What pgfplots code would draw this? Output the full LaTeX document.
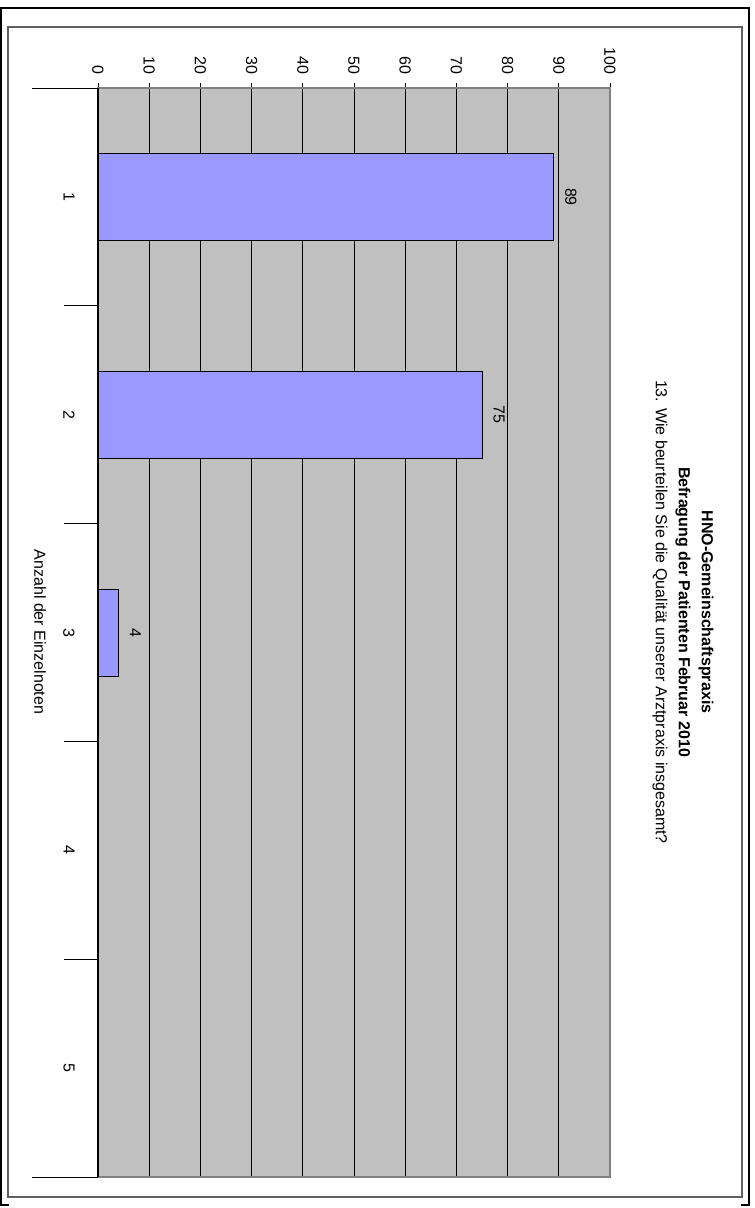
\documentclass[border=0pt]{standalone}
\usepackage{fontspec}
\setmainfont{Liberation Sans}
\usepackage{pgfplots}
\pgfplotsset{compat=1.18}
\definecolor{plotgray}{HTML}{C0C0C0}
\definecolor{barblue}{HTML}{9999FF}
\definecolor{framegray}{HTML}{606060}
\begin{document}
\fontsize{8pt}{9.6pt}\selectfont
\begin{tikzpicture}
\useasboundingbox (0,0) rectangle (377pt,-604pt);
% outer frame
\draw[black, line width=1.1pt] (0.5pt,-602.3pt) -- (0.5pt,-4pt) -- (374.3pt,-4pt) -- (374.3pt,-602.3pt);
\draw[black, line width=1.1pt] (0pt,-602.3pt) -- (4.5pt,-602.3pt);
\draw[black, line width=1.1pt] (370.5pt,-602.3pt) -- (374.85pt,-602.3pt);
% inner frame
\draw[framegray, line width=0.6pt] (4pt,-13.5pt) rectangle (371pt,-598.5pt);
\begin{axis}[
  at={(49pt,-44pt)}, anchor=north west,
  width=256pt, height=544.5pt, scale only axis,
  xbar, bar width=43.5pt,
  xmin=0, xmax=100, ymin=0.5, ymax=5.5, y dir=reverse,
  axis background/.style={fill=plotgray},
  axis line style={draw=gray, line width=0.6pt},
  xtick={0,10,...,100}, xtick pos=right, xticklabel pos=right,
  tick align=outside, major tick length=2.5pt,
  xtick style={black, line width=0.5pt},
  xmajorgrids, grid style={black, line width=0.5pt},
  xticklabel style={rotate=-90, anchor=east, inner sep=0pt},
  xticklabel shift=4pt,
  ytick={1,2,3,4,5}, ytick style={draw=none},
  yticklabel style={rotate=-90, anchor=north, inner sep=0pt},
  yticklabel shift=9pt,
  /pgf/number format/assume math mode=true,
  tick label style={font=\fontsize{8pt}{9.6pt}\selectfont},
  nodes near coords,
  every node near coord/.append style={rotate=-90, anchor=south, inner sep=5.5pt, black, font=\fontsize{8pt}{9.6pt}\selectfont},
  clip=false,
]
\addplot[fill=barblue, draw=black, line width=0.5pt] coordinates {(89,1) (75,2) (4,3)};
\draw[black, line width=0.6pt] (axis cs:0,0.5) -- (axis cs:0,5.5);
\draw[black, line width=0.5pt] (axis cs:0,0.5) -- ++(-33pt,0pt);
\draw[black, line width=0.5pt] (axis cs:0,5.5) -- ++(-33pt,0pt);
\draw[black, line width=0.5pt] (axis cs:0,1.5) -- ++(-17pt,0pt);
\draw[black, line width=0.5pt] (axis cs:0,2.5) -- ++(-17pt,0pt);
\draw[black, line width=0.5pt] (axis cs:0,3.5) -- ++(-17pt,0pt);
\draw[black, line width=0.5pt] (axis cs:0,4.5) -- ++(-17pt,0pt);
\end{axis}
\node[rotate=-90, align=center, font=\fontsize{8pt}{11.5pt}\selectfont] at (341.5pt,-306pt)
  {\textbf{HNO-Gemeinschaftspraxis}\\ \textbf{Befragung der Patienten Februar 2010}\\ 13. Wie beurteilen Sie die Qualität unserer Arztpraxis insgesamt?};
\node[rotate=-90, font=\fontsize{8pt}{9.6pt}\selectfont] at (20pt,-316pt) {Anzahl der Einzelnoten};
\end{tikzpicture}
\end{document}
